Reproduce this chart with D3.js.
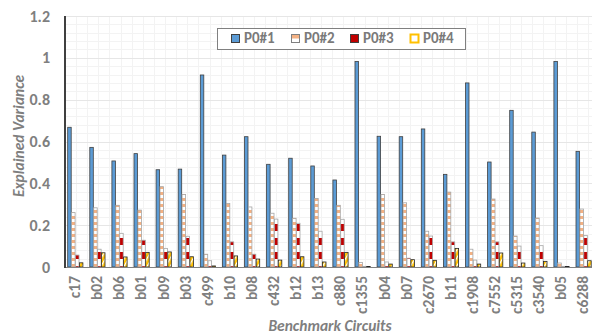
<!DOCTYPE html>
<html><head><meta charset="utf-8">
<script src="https://cdn.jsdelivr.net/npm/d3@7"></script>
<style>body{margin:0;background:#fff}svg{display:block;font-family:Carlito,Lato,"Liberation Sans",sans-serif}</style>
</head><body><svg id="c" width="592" height="335"></svg>
<script>
const categories=["c17","b02","b06","b01","b09","b03","c499","b10","b08","c432","b12","b13","c880","c1355","b04","b07","c2670","b11","c1908","c7552","c5315","c3540","b05","c6288"];
const seriesNames=["P0#1","P0#2","P0#3","P0#4"];
const p1=[0.668,0.572,0.507,0.542,0.465,0.468,0.918,0.535,0.623,0.491,0.52,0.483,0.416,0.983,0.625,0.623,0.66,0.443,0.88,0.502,0.749,0.645,0.983,0.553];
const p2=[0.26,0.283,0.295,0.272,0.384,0.347,0.061,0.304,0.287,0.257,0.233,0.328,0.295,0.022,0.347,0.307,0.171,0.358,0.085,0.325,0.148,0.234,0.019,0.277];
const p3=[0.057,0.085,0.161,0.128,0.089,0.147,0.03,0.12,0.061,0.229,0.209,0.171,0.228,0.003,0.024,0.042,0.148,0.12,0.033,0.12,0.1,0.102,0.003,0.151];
const p4=[0.02,0.068,0.048,0.07,0.072,0.049,0.005,0.053,0.038,0.033,0.049,0.024,0.07,0.002,0.014,0.035,0.032,0.089,0.014,0.067,0.019,0.027,0.002,0.03];
const yTicks=[0,0.2,0.4,0.6,0.8,1,1.2];
const values=[p1,p2,p3,p4];

const svg=d3.select("#c");
const W=592,H=335;
const mLeft=65,mTop=16,mBottom=267;
const n=categories.length;
const band=22.1;
const x=d3.scaleBand().domain(categories).range([64.45,64.45+band*n]).paddingInner(0).paddingOuter(0);
const y=d3.scaleLinear().domain([0,1.2]).range([mBottom,mTop]);
const xs=d3.scaleBand().domain(seriesNames).range([-7.8,7.8]);

// patterns
const defs=svg.append("defs");
const pt2=defs.append("pattern").attr("id","pt2").attr("patternUnits","userSpaceOnUse").attr("width",6).attr("height",6);
pt2.append("rect").attr("width",6).attr("height",6).attr("fill","#fff");
pt2.append("rect").attr("width",6).attr("height",3).attr("fill","#f4b183");
const pt3=defs.append("pattern").attr("id","pt3").attr("patternUnits","userSpaceOnUse").attr("width",6).attr("height",14);
pt3.append("rect").attr("width",6).attr("height",14).attr("fill","#fff");
pt3.append("rect").attr("width",6).attr("height",7).attr("fill","#c00000");
const pt4=defs.append("pattern").attr("id","pt4").attr("patternUnits","userSpaceOnUse").attr("width",4).attr("height",4).attr("patternTransform","rotate(30)");
pt4.append("rect").attr("width",4).attr("height",4).attr("fill","#ffc000");
pt4.append("rect").attr("width",1.3).attr("height",4).attr("fill","#fff");
const fills=["#5b9bd5","url(#pt2)","url(#pt3)","url(#pt4)"];
const strokes=["#404040","#a6a6a6","#a6a6a6","#262626"];

// grid
const g=svg.append("g");
const minor=d3.range(0,1.2001,0.04);
g.selectAll("line.hm").data(minor).join("line").attr("x1",mLeft).attr("x2",W).attr("y1",d=>Math.round(y(d))+0.5).attr("y2",d=>Math.round(y(d))+0.5).attr("stroke","#f3f3f3");
const vlines=d3.range(mLeft+11,W,11.13);
g.selectAll("line.v").data(vlines).join("line").attr("y1",mTop).attr("y2",mBottom).attr("x1",d=>Math.round(d)+0.5).attr("x2",d=>Math.round(d)+0.5).attr("stroke","#f3f3f3");
g.selectAll("line.hM").data(yTicks).join("line").attr("x1",mLeft).attr("x2",W).attr("y1",d=>Math.round(y(d))+0.5).attr("y2",d=>Math.round(y(d))+0.5).attr("stroke","#e6e6e6");

// bars
seriesNames.forEach((s,si)=>{
  svg.append("g").selectAll("rect").data(categories).join("rect")
   .attr("x",(c)=>x(c)+x.bandwidth()/2+xs(s))
   .attr("width",xs.bandwidth()-0.4)
   .attr("y",(c,i)=>y(values[si][i]))
   .attr("height",(c,i)=>mBottom-y(values[si][i]))
   .attr("fill",fills[si]).attr("stroke",strokes[si]).attr("stroke-width",0.8);
});

// axes
svg.append("line").attr("x1",mLeft).attr("x2",W).attr("y1",mBottom+0.5).attr("y2",mBottom+0.5).attr("stroke","#808080").attr("stroke-width",1.2);
svg.append("line").attr("x1",mLeft).attr("x2",mLeft).attr("y1",mTop).attr("y2",mBottom+1).attr("stroke","#404040").attr("stroke-width",2);

const txt="#7f7f7f";
const ya=svg.append("g").attr("transform",`translate(${mLeft},0)`).call(d3.axisLeft(y).tickValues(yTicks).tickSize(0).tickPadding(15).tickFormat(d3.format("")));
ya.select(".domain").remove();
ya.selectAll("text").attr("fill",txt).attr("font-size",16).attr("font-weight","bold").attr("font-family","Carlito,Lato,sans-serif");

const xa=svg.append("g").attr("transform",`translate(0,${mBottom})`).call(d3.axisBottom(x).tickSize(0).tickPadding(0));
xa.select(".domain").remove();
xa.selectAll("text").attr("fill",txt).attr("font-size",15.5).attr("font-weight","bold").attr("font-family","Carlito,Lato,sans-serif")
  .attr("text-anchor","end").attr("transform","rotate(-90)").attr("x",-9).attr("y",0).attr("dy","0.3em");

svg.append("text").attr("transform","translate(24,136) rotate(-90)").attr("text-anchor","middle").attr("fill",txt)
 .attr("font-size",15.5).attr("font-weight","bold").attr("font-style","italic").text("Explained Variance");
svg.append("text").attr("x",330).attr("y",331).attr("text-anchor","middle").attr("fill",txt)
 .attr("font-size",15.5).attr("font-weight","bold").attr("font-style","italic").text("Benchmark Circuits");

// legend
const lg=svg.append("g");
lg.append("rect").attr("x",217.5).attr("y",28.5).attr("width",248).attr("height",21).attr("fill","#fff").attr("stroke","#808080").attr("stroke-width",1);
const lx=[231,291,350,410];
const legFill=["#5b9bd5",null,"#c00000","#fff"];
seriesNames.forEach((s,i)=>{
  const it=lg.append("g").attr("transform",`translate(${lx[i]},34)`);
  if(i===1){
    it.append("rect").attr("x",0.5).attr("y",0.5).attr("width",8).attr("height",8).attr("fill","#fff").attr("stroke","#808080");
    it.append("rect").attr("x",1).attr("y",1).attr("width",7).attr("height",3.5).attr("fill","#f4b183");
  } else {
    it.append("rect").attr("x",0.5).attr("y",0.5).attr("width",8).attr("height",8).attr("fill",legFill[i]).attr("stroke",i===3?"#ffc000":"#404040").attr("stroke-width",i===3?2:1);
  }
  it.append("text").attr("x",13).attr("y",9).attr("fill","#7a7a7a").attr("font-size",15).attr("font-weight","bold").text(s);
});
</script></body></html>
